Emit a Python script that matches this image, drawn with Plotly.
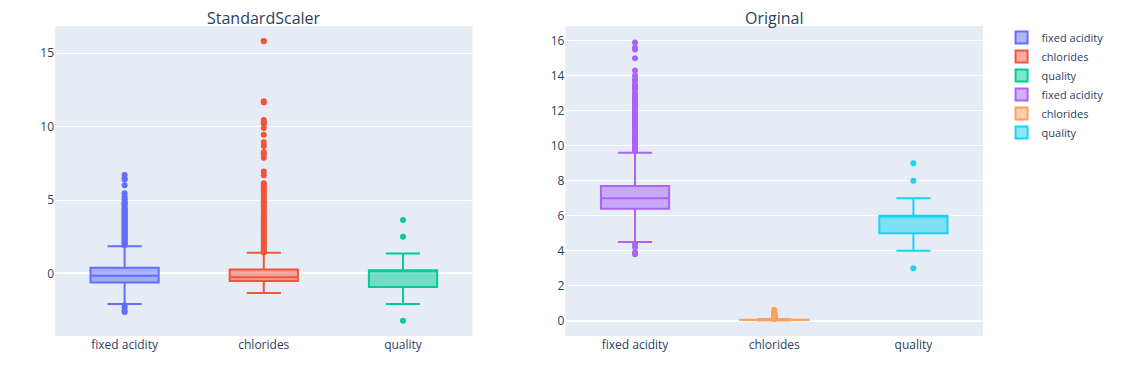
import plotly.graph_objects as go
from plotly.subplots import make_subplots

features = ["fixed acidity", "chlorides", "quality"]

# ---- Original values (box statistics) ----
orig_q1 = [6.4, 0.038, 5.0]
orig_median = [7.0, 0.047, 6.0]
orig_q3 = [7.7, 0.065, 6.0]
orig_lowerfence = [4.5, 0.009, 4.0]
orig_upperfence = [9.6, 0.105, 7.0]

orig_fa_outliers = [9.7, 9.8, 9.9, 10.0, 10.1, 10.2, 10.3, 10.4, 10.5, 10.6, 10.7, 10.8, 10.9,
                    11.0, 11.1, 11.2, 11.3, 11.4, 11.5, 11.6, 11.7, 11.8, 11.9, 12.0, 12.1, 12.2,
                    12.3, 12.4, 12.5, 12.6, 12.7, 12.8, 12.9, 13.0, 13.2, 13.3, 13.4, 13.5, 13.7,
                    13.8, 14.0, 14.3, 15.0, 15.5, 15.6, 15.9, 4.4, 4.2, 3.9, 3.8]
orig_cl_outliers = [0.611, 0.610, 0.467, 0.464, 0.422, 0.415, 0.414, 0.403, 0.387, 0.369, 0.360,
                    0.346, 0.341, 0.332, 0.299, 0.290, 0.271, 0.267, 0.263, 0.258, 0.252, 0.247,
                    0.241, 0.236, 0.230, 0.226, 0.222, 0.216, 0.213, 0.208, 0.205, 0.200, 0.194,
                    0.190, 0.186, 0.181, 0.178, 0.172, 0.169, 0.165, 0.161, 0.157, 0.152, 0.148,
                    0.145, 0.141, 0.137, 0.133, 0.129, 0.125, 0.122, 0.118, 0.115, 0.112, 0.109,
                    0.106]
orig_q_outliers = [3, 8, 9]

# ---- StandardScaler values ----
std_q1 = [-0.629, -0.515, -0.937]
std_median = [-0.166, -0.258, 0.208]
std_q3 = [0.374, 0.256, 0.208]
std_lowerfence = [-2.094, -1.342, -2.082]
std_upperfence = [1.840, 1.398, 1.354]

std_fa_outliers = [1.917, 1.994, 2.071, 2.148, 2.225, 2.302, 2.380, 2.457, 2.534, 2.611, 2.688,
                   2.765, 2.842, 2.919, 2.997, 3.074, 3.151, 3.228, 3.305, 3.382, 3.459, 3.537,
                   3.614, 3.691, 3.768, 3.845, 3.922, 3.999, 4.077, 4.154, 4.231, 4.308, 4.385,
                   4.462, 4.616, 4.694, 4.771, 4.848, 5.002, 5.079, 5.234, 5.465, 6.005, 6.391,
                   6.468, 6.699, -2.172, -2.326, -2.557, -2.635]
std_cl_outliers = [15.843, 15.814, 11.732, 11.646, 10.447, 10.248, 10.219, 9.905, 9.448, 8.934,
                   8.677, 8.278, 8.135, 7.878, 6.936, 6.679, 6.137, 6.023, 5.908, 5.766, 5.594,
                   5.452, 5.280, 5.138, 4.966, 4.852, 4.738, 4.567, 4.481, 4.338, 4.253, 4.110,
                   3.939, 3.824, 3.710, 3.568, 3.482, 3.311, 3.225, 3.111, 2.997, 2.882, 2.740,
                   2.625, 2.540, 2.426, 2.311, 2.197, 2.083, 1.969, 1.883, 1.769, 1.683, 1.598,
                   1.512, 1.426]
std_q_outliers = [-3.227, 2.498, 3.643]

std_outliers = [std_fa_outliers, std_cl_outliers, std_q_outliers]
orig_outliers = [orig_fa_outliers, orig_cl_outliers, orig_q_outliers]

left_colors = ["#636EFA", "#EF553B", "#00CC96"]
right_colors = ["#AB63FA", "#FFA15A", "#19D3F3"]

fig = make_subplots(rows=1, cols=2, subplot_titles=("StandardScaler", "Original"),
                    horizontal_spacing=0.1)

for i, name in enumerate(features):
    fig.add_trace(go.Box(
        x=[name], name=name,
        q1=[std_q1[i]], median=[std_median[i]], q3=[std_q3[i]],
        lowerfence=[std_lowerfence[i]], upperfence=[std_upperfence[i]],
        y=[std_outliers[i]], boxpoints="outliers", jitter=0, pointpos=0,
        marker_color=left_colors[i], line_color=left_colors[i],
    ), row=1, col=1)

for i, name in enumerate(features):
    fig.add_trace(go.Box(
        x=[name], name=name,
        q1=[orig_q1[i]], median=[orig_median[i]], q3=[orig_q3[i]],
        lowerfence=[orig_lowerfence[i]], upperfence=[orig_upperfence[i]],
        y=[orig_outliers[i]], boxpoints="outliers", jitter=0, pointpos=0,
        marker_color=right_colors[i], line_color=right_colors[i],
    ), row=1, col=2)

fig.update_annotations(yshift=-5)

fig.update_layout(
    template="plotly",
    width=1121, height=358,
    margin=dict(l=47, r=146, t=18, b=30),
    showlegend=True,
    legend=dict(font=dict(size=11), y=1.01),
)
fig.update_yaxes(range=[-4.27, 16.86], tickvals=[0, 5, 10, 15], row=1, col=1)
fig.update_yaxes(range=[-0.87, 16.84], dtick=2, row=1, col=2)

fig.write_html("out.html")
